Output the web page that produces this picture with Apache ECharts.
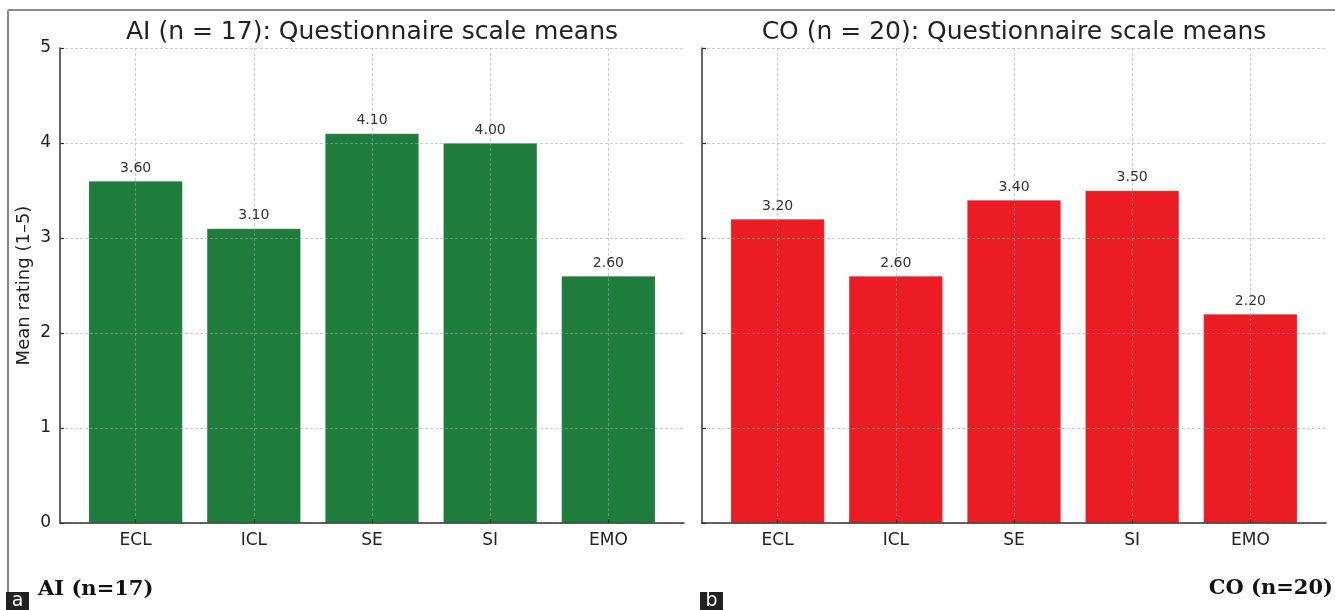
<!DOCTYPE html>
<html>
<head>
<meta charset="utf-8">
<title>Questionnaire scale means</title>
<script src="https://cdn.jsdelivr.net/npm/echarts@6/dist/echarts.min.js"></script>
<style>
  html, body { margin: 0; padding: 0; background: #fff; }
  #chart { width: 1335px; height: 610px; }
</style>
</head>
<body>
<div id="chart"></div>
<script>
// Questionnaire scales and their mean ratings per group
const categories = ['ECL', 'ICL', 'SE', 'SI', 'EMO'];
const aiMeans = [3.60, 3.10, 4.10, 4.00, 2.60];
const coMeans = [3.20, 2.60, 3.40, 3.50, 2.20];

const panels = [
  { title: 'AI (n = 17): Questionnaire scale means', values: aiMeans, color: '#1e7d3c', left: 60, right: 651, showY: true },
  { title: 'CO (n = 20): Questionnaire scale means', values: coMeans, color: '#ec1c24', left: 702, right: 9, showY: false }
];

const FONT = 'DejaVu Sans';
const gridLine = { show: true, lineStyle: { color: 'rgba(165,165,165,0.55)', width: 1, type: [3, 2] } };
const spineStyle = { color: '#333', width: 1.5 };

const grids = [], xAxes = [], yAxes = [], series = [], graphics = [];

panels.forEach((p, k) => {
  grids.push({ left: p.left, right: p.right, top: 48, bottom: 87, containLabel: false });
  const idx = categories.map((_, i) => i);
  xAxes.push({
    gridIndex: k, type: 'value', min: -0.64, max: 4.64, z: 3,
    axisLine: { show: true, onZero: false, lineStyle: spineStyle },
    axisTick: { show: true, inside: true, length: 4, customValues: idx, lineStyle: { color: '#333', width: 1.2 } },
    axisLabel: { show: true, customValues: idx, margin: 9, fontFamily: FONT, fontSize: 17, color: '#222',
                 formatter: v => categories[Math.round(v)] },
    splitLine: gridLine
  });
  yAxes.push({
    gridIndex: k, type: 'value', min: 0, max: 5, interval: 1, z: 3,
    name: p.showY ? 'Mean rating (1\u20135)' : '',
    nameLocation: 'middle', nameGap: 27, nameRotate: 90,
    nameTextStyle: { fontFamily: FONT, fontSize: 18, color: '#222' },
    axisLine: { show: true, onZero: false, lineStyle: spineStyle },
    axisTick: { show: true, inside: true, length: 4, lineStyle: { color: '#333', width: 1.2 } },
    axisLabel: { show: p.showY, margin: 9, fontFamily: FONT, fontSize: 17, color: '#222' },
    splitLine: gridLine
  });
  const pts = p.values.map((v, i) => [i, v]);
  // filled bars sit below the grid lines
  series.push({
    type: 'bar', xAxisIndex: k, yAxisIndex: k, data: pts, barWidth: 94, z: 2,
    itemStyle: { color: p.color, borderColor: 'rgba(255,255,255,0.35)', borderWidth: 0.6 },
    silent: true
  });
  // transparent twin carrying the value labels above the grid lines
  series.push({
    type: 'bar', xAxisIndex: k, yAxisIndex: k, data: pts, barWidth: 94, barGap: '-100%', z: 5,
    itemStyle: { color: 'rgba(0,0,0,0)' },
    label: { show: true, position: 'top', distance: 6, fontFamily: FONT, fontSize: 14, color: '#333',
             formatter: d => d.value[1].toFixed(2) },
    silent: true
  });
  const plotLeft = p.left;
  const plotRight = 1335 - p.right;
  graphics.push({
    type: 'text', x: (plotLeft + plotRight) / 2, y: 32, z: 10,
    style: { text: p.title, font: '25px "' + FONT + '"', fill: '#222', textAlign: 'center', textVerticalAlign: 'middle' }
  });
});

// outer frame
graphics.push({ type: 'line', shape: { x1: 8, y1: 10, x2: 1335, y2: 10 }, style: { stroke: '#8a8a8a', lineWidth: 2 } });
graphics.push({ type: 'line', shape: { x1: 8, y1: 10, x2: 8, y2: 592 }, style: { stroke: '#8a8a8a', lineWidth: 2 } });

// panel tags
[['a', 6, 592, 23], ['b', 700, 592, 23]].forEach(([t, x, y, w]) => {
  graphics.push({ type: 'rect', shape: { x: x, y: y, width: w, height: 610 - y }, style: { fill: '#222' } });
  graphics.push({ type: 'text', x: x + w / 2, y: y + 9, style: { text: t, font: '19px "' + FONT + '"', fill: '#fff', textAlign: 'center', textVerticalAlign: 'middle' } });
});

// group captions
graphics.push({ type: 'text', x: 38, y: 590, style: { text: 'AI (n=17)', font: 'bold 21px "DejaVu Serif"', fill: '#111', textAlign: 'left', textVerticalAlign: 'middle' } });
graphics.push({ type: 'text', x: 1333, y: 589, style: { text: 'CO (n=20)', font: 'bold 21px "DejaVu Serif"', fill: '#111', textAlign: 'right', textVerticalAlign: 'middle' } });

const chart = echarts.init(document.getElementById('chart'), null, { renderer: 'canvas' });
chart.setOption({
  animation: false,
  backgroundColor: '#fff',
  grid: grids,
  xAxis: xAxes,
  yAxis: yAxes,
  series: series,
  graphic: graphics
});
</script>
</body>
</html>
